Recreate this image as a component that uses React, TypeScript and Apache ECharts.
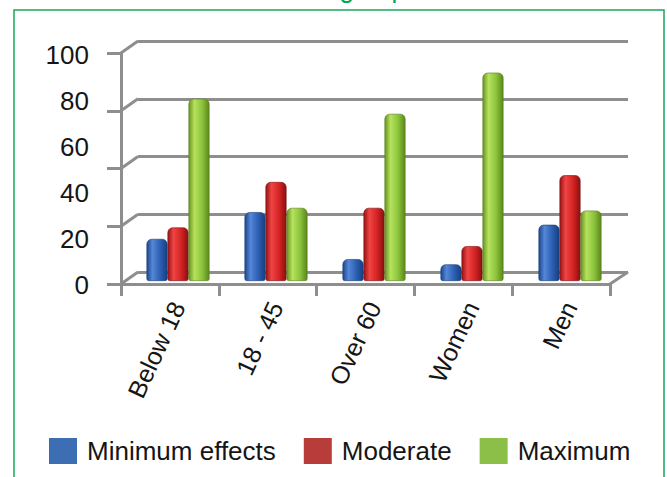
import React, { useEffect, useRef } from "react";
import * as echarts from "echarts";

const categories = ["Below 18", "18 - 45", "Over 60", "Women", "Men"];
const seriesNames = ["Minimum effects", "Moderate", "Maximum"];
const minimumEffects = [18.7, 30.6, 9.7, 7.4, 25.0];
const moderate = [23.8, 44.0, 32.5, 15.5, 47.0];
const maximum = [81.0, 32.5, 74.3, 92.6, 31.3];
const labelMax = 100;
const labelStep = 20;
const wallStep = 25;
const wallTicks = [0, 25, 50, 75, 100];
const titleText = "Effects across groups";

const FONT = "'Liberation Sans', Arial, Helvetica, sans-serif";
const AXIS_GRAY = "#8e8e8e";

const grad = (stops: string[]) =>
  new echarts.graphic.LinearGradient(0, 0, 1, 0, [
    { offset: 0, color: stops[0] },
    { offset: 0.28, color: stops[1] },
    { offset: 0.65, color: stops[2] },
    { offset: 1, color: stops[3] },
  ]);

export default function App() {
  const ref = useRef<HTMLDivElement>(null);
  useEffect(() => {
    if (!ref.current) return;
    const chart = echarts.init(ref.current, undefined, { renderer: "svg" });
    const offX = 17;
    const offY = -12;
    const barStyle = (stops: string[], edge: string) => ({
      color: grad(stops),
      borderRadius: [5, 5, 2, 2],
      borderColor: edge,
      borderWidth: 0.6,
    });
    chart.setOption({
      animation: false,
      textStyle: { fontFamily: FONT },
      graphic: [
        {
          type: "rect",
          z: -10,
          shape: { x: 14, y: 10, width: 650, height: 520 },
          style: { fill: "none", stroke: "#1aa85b", lineWidth: 1.5 },
        },
        {
          type: "text",
          x: 419,
          y: -11,
          style: {
            text: titleText,
            fill: "#00a651",
            fontSize: 26,
            fontFamily: FONT,
            align: "right",
            verticalAlign: "middle",
          },
        },
      ],
      legend: {
        left: 44,
        top: 433,
        itemWidth: 28,
        itemHeight: 26,
        itemGap: 28,
        icon: "rect",
        itemStyle: { borderWidth: 0 },
        textStyle: { fontSize: 26, color: "#151515", fontFamily: FONT, padding: [0, 0, 0, 5] },
        data: [
          { name: seriesNames[0], itemStyle: { color: "#3d6db3", borderWidth: 0 } },
          { name: seriesNames[1], itemStyle: { color: "#b73c3a", borderWidth: 0 } },
          { name: seriesNames[2], itemStyle: { color: "#8bbf47", borderWidth: 0 } },
        ],
      },
      grid: [
        { left: 121, top: 53, width: 489, height: 231 },
        { left: 121 + offX, top: 53 + offY, width: 490, height: 231 },
        { left: 129, top: 56, width: 490, height: 225 },
        { left: 121, top: 55, width: 489, height: 230 },
      ],
      xAxis: [
        {
          gridIndex: 0,
          type: "category",
          data: categories,
          boundaryGap: true,
          axisLine: { lineStyle: { color: AXIS_GRAY, width: 3 } },
          axisTick: { show: true, interval: 0, length: 12, lineStyle: { color: AXIS_GRAY, width: 3 } },
          axisLabel: { show: false },
        },
        { gridIndex: 1, type: "category", data: categories, show: false },
        {
          gridIndex: 2,
          type: "category",
          data: categories,
          axisLine: { show: false },
          axisTick: { show: false },
          axisLabel: {
            interval: 0,
            rotate: 65,
            margin: 22,
            fontSize: 25,
            color: "#151515",
            fontFamily: FONT,
          },
        },
        { gridIndex: 3, type: "category", data: categories, show: false },
      ],
      yAxis: [
        {
          gridIndex: 0,
          type: "value",
          min: 0,
          max: labelMax,
          interval: wallStep,
          axisLine: { show: true, lineStyle: { color: AXIS_GRAY, width: 3 } },
          axisTick: { show: true, length: 14, lineStyle: { color: AXIS_GRAY, width: 3 } },
          axisLabel: { show: false },
          splitLine: { show: false },
        },
        {
          gridIndex: 1,
          type: "value",
          min: 0,
          max: labelMax,
          interval: wallStep,
          axisLine: { show: false },
          axisTick: { show: false },
          axisLabel: { show: false },
          splitLine: { show: true, lineStyle: { color: AXIS_GRAY, width: 3 } },
        },
        {
          gridIndex: 2,
          type: "value",
          min: 0,
          max: labelMax,
          show: false,
          splitLine: { show: false },
        },
        {
          gridIndex: 3,
          type: "value",
          min: 0,
          max: labelMax,
          interval: labelStep,
          axisLine: { show: false },
          axisTick: { show: false },
          splitLine: { show: false },
          axisLabel: { margin: 32, fontSize: 26, color: "#151515", fontFamily: FONT },
        },
      ],
      series: [
        {
          type: "custom",
          xAxisIndex: 0,
          yAxisIndex: 0,
          silent: true,
          clip: false,
          z: 1,
          data: wallTicks.map((v) => [0, v]),
          encode: { x: 0, y: 1 },
          renderItem: (params: any, api: any) => {
            const cs = params.coordSys;
            const y = api.coord([0, api.value(1)])[1];
            const children: any[] = [
              {
                type: "line",
                shape: { x1: cs.x, y1: y, x2: cs.x + offX, y2: y + offY },
                style: { stroke: AXIS_GRAY, lineWidth: 3 },
              },
            ];
            if (api.value(1) === 0) {
              children.push({
                type: "line",
                shape: { x1: cs.x + cs.width, y1: y, x2: cs.x + cs.width + offX + 1, y2: y + offY },
                style: { stroke: AXIS_GRAY, lineWidth: 3 },
              });
            }
            return { type: "group", children };
          },
        },
        {
          name: seriesNames[0],
          type: "bar",
          xAxisIndex: 2,
          yAxisIndex: 2,
          barWidth: 21,
          barGap: "0%",
          z: 3,
          data: minimumEffects,
          itemStyle: barStyle(["#1c468e", "#5587d6", "#2d5fb4", "#173f80"], "#1a3f7e"),
        },
        {
          name: seriesNames[1],
          type: "bar",
          xAxisIndex: 2,
          yAxisIndex: 2,
          barWidth: 21,
          barGap: "0%",
          z: 3,
          data: moderate,
          itemStyle: barStyle(["#961313", "#f04444", "#d42323", "#8a1010"], "#7e1010"),
        },
        {
          name: seriesNames[2],
          type: "bar",
          xAxisIndex: 2,
          yAxisIndex: 2,
          barWidth: 21,
          barGap: "0%",
          z: 3,
          data: maximum,
          itemStyle: barStyle(["#679420", "#b6e25e", "#8cc43c", "#5a861b"], "#5a801d"),
        },
      ],
    });
    return () => chart.dispose();
  }, []);
  return (
    <div
      ref={ref}
      style={{ position: "absolute", left: 0, top: 0, width: 667, height: 477, background: "#fff" }}
    />
  );
}
